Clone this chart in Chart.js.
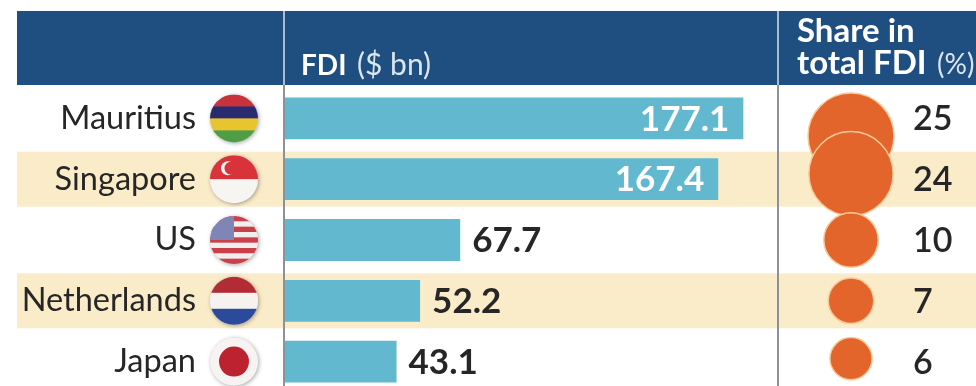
<!DOCTYPE html>
<html>
<head>
<meta charset="utf-8">
<style>
    html, body { margin: 0; padding: 0; background: #fff; overflow: hidden; width: 976px; height: 386px; }
    canvas { display: block; filter: blur(0.5px); }
</style>
<script src="https://cdn.jsdelivr.net/npm/chart.js@4/dist/chart.umd.min.js"></script>
</head>
<body>
<canvas id="fdiChart" width="976" height="392"></canvas>
<script>
const countries = ['Mauritius', 'Singapore', 'US', 'Netherlands', 'Japan'];
const fdiValues = [177.1, 167.4, 67.7, 52.2, 43.1];
const shareValues = [25, 24, 10, 7, 6];
// the top circles sit off their row in the picture
const bubbleRows = [0.29, 0.91, 2, 3, 3.95];

const NAVY = '#1f4e80';
const CREAM = '#fbecc9';
const TEAL = '#62b9cf';
const ORANGE = '#e4652b';
const INK = '#262626';
const FONT = 'Lato, sans-serif';

// --- flags ---
function stripes(ctx, x, y, r, colors) {
    const h = 2 * r / colors.length;
    colors.forEach((c, i) => {
        ctx.fillStyle = c;
        ctx.fillRect(x - r, y - r + i * h, 2 * r, h + 0.5);
    });
}
const flags = {
    Mauritius(ctx, x, y, r) {
        stripes(ctx, x, y, r, ['#c8323a', '#2a2a6e', '#e8c52e', '#4f9e46']);
    },
    Singapore(ctx, x, y, r) {
        stripes(ctx, x, y, r, ['#d8333b', '#f7f5f2']);
        ctx.fillStyle = '#f7f5f2';
        ctx.beginPath();
        ctx.arc(x - 6, y - 11, 7, 0, Math.PI * 2);
        ctx.fill();
        ctx.fillStyle = '#d8333b';
        ctx.beginPath();
        ctx.arc(x - 3, y - 11, 6.5, 0, Math.PI * 2);
        ctx.fill();
    },
    US(ctx, x, y, r) {
        stripes(ctx, x, y, r, ['#c9404a', '#f3eeee', '#c9404a', '#f3eeee', '#c9404a', '#f3eeee', '#c9404a', '#f3eeee', '#c9404a']);
        ctx.fillStyle = '#7f86b5';
        ctx.fillRect(x - r, y - r, r, r);
    },
    Netherlands(ctx, x, y, r) {
        stripes(ctx, x, y, r, ['#b22b35', '#f5f2f0', '#2c4a9c']);
    },
    Japan(ctx, x, y, r) {
        stripes(ctx, x, y, r, ['#f6f3f2']);
        ctx.fillStyle = '#bd2230';
        ctx.beginPath();
        ctx.arc(x, y, 15, 0, Math.PI * 2);
        ctx.fill();
    }
};

// --- bands, header, column rules ---
const tablePlugin = {
    id: 'table',
    beforeDraw(chart) {
        const ctx = chart.ctx;
        const y = chart.scales.y;
        ctx.save();
        ctx.fillStyle = CREAM;
        [1, 3].forEach(i => ctx.fillRect(17, y.getPixelForValue(i) - 27.5, 959, 55));

        ctx.fillStyle = NAVY;
        ctx.fillRect(17, 11, 959, 74);

        ctx.fillStyle = '#8d9298';
        ctx.fillRect(283, 85, 2, 301);
        ctx.fillRect(777, 85, 2, 301);
        ctx.fillStyle = '#a9bccf';
        ctx.fillRect(283, 11, 2, 74);
        ctx.fillRect(777, 11, 2, 74);

        ctx.textBaseline = 'alphabetic';
        ctx.textAlign = 'left';
        ctx.fillStyle = '#fff';
        ctx.font = 'bold 28px ' + FONT;
        ctx.fillText('FDI', 301, 75);
        ctx.fillStyle = '#dbe5ee';
        ctx.font = '30px ' + FONT;
        ctx.fillText('($ bn)', 357, 75);

        ctx.fillStyle = '#fff';
        ctx.font = 'bold 33px ' + FONT;
        ctx.fillText('Share in', 797, 42);
        ctx.fillText('total FDI', 797, 74);
        ctx.fillStyle = '#dbe5ee';
        ctx.font = '28px ' + FONT;
        ctx.fillText('(%)', 937, 74);

        countries.forEach((name, i) => {
            const cy = y.getPixelForValue(i);
            ctx.save();
            ctx.shadowColor = 'rgba(0,0,0,0.35)';
            ctx.shadowBlur = 4;
            ctx.shadowOffsetX = 1;
            ctx.shadowOffsetY = 1;
            ctx.fillStyle = '#ddd';
            ctx.beginPath();
            ctx.arc(234, cy, 24, 0, Math.PI * 2);
            ctx.fill();
            ctx.restore();
            ctx.save();
            ctx.beginPath();
            ctx.arc(234, cy, 24, 0, Math.PI * 2);
            ctx.clip();
            flags[name](ctx, 234, cy, 24);
            ctx.restore();
        });
        ctx.restore();
    },
    afterDatasetsDraw(chart) {
        const ctx = chart.ctx;
        const x = chart.scales.x;
        const y = chart.scales.y;
        ctx.save();
        ctx.textBaseline = 'middle';
        fdiValues.forEach((v, i) => {
            const cy = y.getPixelForValue(i) + 1;
            ctx.font = 'bold 35px ' + FONT;
            if (v > 100) {
                ctx.fillStyle = '#fff';
                ctx.textAlign = 'right';
                ctx.fillText(v.toFixed(1), x.getPixelForValue(v) - 14, cy);
            } else {
                ctx.fillStyle = INK;
                ctx.textAlign = 'left';
                ctx.fillText(v.toFixed(1), x.getPixelForValue(v) + 12, cy);
            }
            ctx.font = '600 34px ' + FONT;
            ctx.fillStyle = INK;
            ctx.textAlign = 'left';
            ctx.fillText(String(shareValues[i]), 913, cy);
        });
        ctx.restore();
    }
};

new Chart(document.getElementById('fdiChart'), {
    data: {
        labels: countries,
        datasets: [
            {
                type: 'bar',
                data: fdiValues,
                xAxisID: 'x',
                yAxisID: 'y',
                backgroundColor: TEAL,
                // a second y axis otherwise splits the row in two slots
                grouped: false,
                barPercentage: 0.86,
                order: 2
            },
            {
                type: 'bubble',
                // same x scale as the bars, 218.7 is just the column of the circles
                data: shareValues.map((s, i) => ({ x: 218.7, y: bubbleRows[i], r: 8.6 * Math.sqrt(s) })),
                xAxisID: 'x',
                yAxisID: 'yShare',
                backgroundColor: ORANGE,
                borderColor: '#f8c99a',
                borderWidth: 1.5,
                order: 1
            }
        ]
    },
    options: {
        indexAxis: 'y',
        responsive: false,
        animation: false,
        layout: { autoPadding: false, padding: { top: 88, left: 0, right: 0, bottom: 0 } },
        plugins: { legend: { display: false }, tooltip: { enabled: false } },
        scales: {
            x: { type: 'linear', min: 0, max: 267, display: false },
            yShare: { type: 'linear', min: -0.5, max: 4.5, reverse: true, display: false },
            y: {
                type: 'category',
                position: 'left',
                border: { display: false },
                grid: { display: false, drawTicks: false },
                // tick padding also pads the plot vertically, so drop that here
                afterFit(scale) {
                    scale.width = 285;
                    scale.paddingTop = 0;
                    scale.paddingBottom = 0;
                },
                ticks: {
                    color: INK,
                    padding: 89,
                    autoSkip: false,
                    font: { family: 'Lato', size: 32.5 }
                }
            }
        }
    },
    plugins: [tablePlugin]
});
</script>
</body>
</html>
